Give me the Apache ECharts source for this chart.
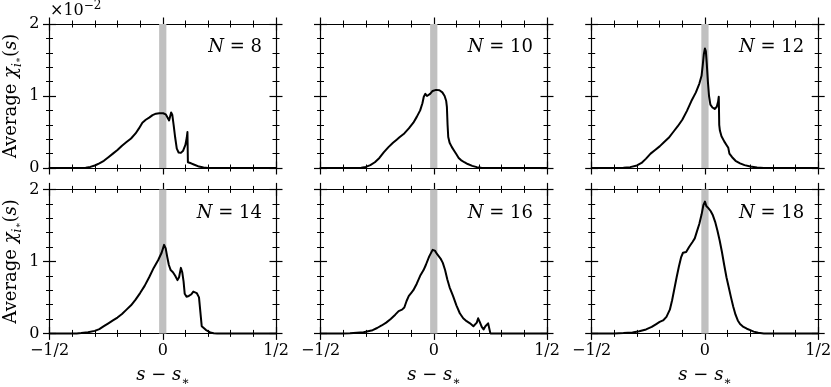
<!DOCTYPE html>
<html><head><meta charset="utf-8">
<script src="https://cdn.jsdelivr.net/npm/echarts@6/dist/echarts.min.js"></script>
<style>html,body{margin:0;padding:0;background:#fff}#c{width:831px;height:387px}</style>
</head><body><div id="c"></div>
<script>
// ---------- data ----------
const panelN = ['8', '10', '12', '14', '16', '18'];
const xTickValues = [-0.5, 0, 0.5];
const xTickLabels = ['\u22121/2', '0', '1/2'];
const yTickValues = [0, 1, 2];
const yTickLabels = ['0', '1', '2'];
const bandHalfWidth = 0.016;

const n8 = [[-0.5,0],[-0.36,0],[-0.34,0.005],[-0.32,0.015],[-0.3,0.035],[-0.28,0.065],[-0.26,0.1],[-0.24,0.15],[-0.22,0.2],[-0.2,0.25],[-0.18,0.31],[-0.16,0.36],[-0.14,0.41],[-0.12,0.48],[-0.105,0.55],[-0.09,0.63],[-0.075,0.67],[-0.06,0.7],[-0.045,0.735],[-0.03,0.755],[-0.015,0.762],[0.002,0.76],[0.013,0.745],[0.021,0.7],[0.028,0.66],[0.033,0.665],[0.037,0.77],[0.042,0.74],[0.048,0.6],[0.055,0.42],[0.062,0.27],[0.07,0.215],[0.08,0.21],[0.09,0.24],[0.1,0.32],[0.106,0.42],[0.109,0.5],[0.111,0.08],[0.125,0.065],[0.14,0.045],[0.16,0.02],[0.18,0.006],[0.2,0],[0.5,0]];
const n10 = [[-0.5,0],[-0.35,0],[-0.32,0.005],[-0.3,0.015],[-0.28,0.04],[-0.26,0.08],[-0.24,0.14],[-0.22,0.22],[-0.2,0.29],[-0.18,0.35],[-0.165,0.39],[-0.15,0.43],[-0.13,0.48],[-0.11,0.55],[-0.09,0.63],[-0.075,0.71],[-0.06,0.8],[-0.05,0.9],[-0.044,0.99],[-0.037,1.03],[-0.03,1.0],[-0.024,0.99],[-0.016,1.03],[-0.005,1.07],[0.01,1.085],[0.025,1.08],[0.038,1.05],[0.048,1.0],[0.055,0.93],[0.058,0.85],[0.061,0.6],[0.064,0.43],[0.07,0.35],[0.08,0.29],[0.09,0.24],[0.1,0.19],[0.11,0.14],[0.12,0.11],[0.135,0.08],[0.15,0.055],[0.17,0.03],[0.19,0.012],[0.21,0.004],[0.24,0],[0.5,0]];
const n12 = [[-0.5,0],[-0.4,0],[-0.36,0.004],[-0.33,0.012],[-0.3,0.035],[-0.28,0.07],[-0.26,0.13],[-0.24,0.2],[-0.22,0.25],[-0.2,0.3],[-0.18,0.36],[-0.16,0.42],[-0.14,0.5],[-0.12,0.58],[-0.1,0.67],[-0.08,0.79],[-0.06,0.93],[-0.04,1.05],[-0.025,1.17],[-0.015,1.28],[-0.01,1.42],[-0.005,1.58],[0.0,1.66],[0.004,1.62],[0.008,1.45],[0.013,1.2],[0.018,1.0],[0.024,0.88],[0.033,0.84],[0.043,0.82],[0.052,0.85],[0.058,0.92],[0.061,0.99],[0.063,0.6],[0.066,0.52],[0.073,0.44],[0.085,0.37],[0.095,0.32],[0.103,0.28],[0.108,0.2],[0.12,0.15],[0.135,0.1],[0.155,0.065],[0.175,0.04],[0.2,0.022],[0.23,0.008],[0.26,0.001],[0.5,0]];
const n14 = [[-0.5,0],[-0.38,0],[-0.36,0.005],[-0.33,0.015],[-0.3,0.035],[-0.28,0.06],[-0.26,0.1],[-0.24,0.14],[-0.22,0.18],[-0.2,0.22],[-0.18,0.27],[-0.16,0.33],[-0.14,0.39],[-0.12,0.47],[-0.1,0.56],[-0.08,0.66],[-0.06,0.78],[-0.04,0.91],[-0.02,1.02],[-0.005,1.12],[0.006,1.23],[0.013,1.18],[0.02,1.06],[0.027,0.95],[0.035,0.88],[0.045,0.85],[0.055,0.8],[0.065,0.74],[0.072,0.78],[0.08,0.91],[0.086,0.85],[0.092,0.72],[0.097,0.55],[0.105,0.51],[0.115,0.52],[0.125,0.54],[0.135,0.58],[0.142,0.6],[0.15,0.56],[0.16,0.5],[0.168,0.48],[0.172,0.1],[0.18,0.075],[0.19,0.05],[0.2,0.03],[0.21,0.012],[0.225,0.002],[0.24,0],[0.5,0]];
const n16 = [[-0.5,0],[-0.4,0],[-0.37,0.003],[-0.34,0.01],[-0.31,0.016],[-0.29,0.03],[-0.27,0.045],[-0.25,0.075],[-0.23,0.11],[-0.21,0.15],[-0.19,0.2],[-0.17,0.26],[-0.155,0.31],[-0.14,0.33],[-0.13,0.36],[-0.12,0.45],[-0.11,0.52],[-0.1,0.56],[-0.09,0.6],[-0.075,0.69],[-0.06,0.8],[-0.045,0.88],[-0.035,0.95],[-0.02,1.07],[-0.005,1.16],[0.005,1.15],[0.015,1.1],[0.03,1.04],[0.04,0.98],[0.05,0.88],[0.06,0.75],[0.07,0.64],[0.085,0.52],[0.1,0.39],[0.115,0.28],[0.13,0.21],[0.145,0.17],[0.16,0.14],[0.175,0.1],[0.182,0.08],[0.19,0.15],[0.196,0.21],[0.203,0.16],[0.212,0.09],[0.22,0.055],[0.228,0.1],[0.24,0.14],[0.248,0.15],[0.25,0],[0.5,0]];
const n18 = [[-0.5,0],[-0.4,0],[-0.36,0.004],[-0.32,0.012],[-0.29,0.03],[-0.26,0.055],[-0.235,0.09],[-0.215,0.13],[-0.2,0.16],[-0.185,0.18],[-0.17,0.23],[-0.155,0.33],[-0.145,0.46],[-0.135,0.62],[-0.125,0.78],[-0.115,0.93],[-0.105,1.06],[-0.097,1.12],[-0.09,1.11],[-0.083,1.13],[-0.07,1.2],[-0.055,1.27],[-0.045,1.32],[-0.035,1.42],[-0.025,1.52],[-0.015,1.65],[-0.007,1.78],[0.0,1.83],[0.006,1.77],[0.015,1.74],[0.025,1.7],[0.035,1.64],[0.045,1.55],[0.055,1.43],[0.065,1.29],[0.075,1.13],[0.085,0.95],[0.095,0.78],[0.105,0.64],[0.115,0.5],[0.125,0.37],[0.135,0.26],[0.145,0.18],[0.155,0.13],[0.17,0.09],[0.185,0.065],[0.2,0.045],[0.215,0.025],[0.235,0.008],[0.26,0],[0.5,0]];
const panelData = [n8, n10, n12, n14, n16, n18];

// ---------- layout / style ----------
const FONT = 'DejaVu Serif';
const lefts = [49.5, 320.5, 591.7];
const tops = [24, 189.4];
const W = 226.5, H = 144;
const MAJ = 6.5, MIN = 3.5;

const grid = [], xAxis = [], yAxis = [], series = [], graphic = [];

function xLabel(v) {
  const i = xTickValues.findIndex(t => Math.abs(t - v) < 1e-9);
  return i >= 0 ? xTickLabels[i] : '';
}
function yLabel(v) {
  const i = yTickValues.findIndex(t => Math.abs(t - v) < 1e-9);
  return i >= 0 ? yTickLabels[i] : '';
}

const xNameRich = {
  i: { fontFamily: FONT, fontSize: 18, fontStyle: 'italic', color: '#000', lineHeight: 24 },
  t: { fontFamily: FONT, fontSize: 18, color: '#000', lineHeight: 24 },
  s: { fontFamily: FONT, fontSize: 12, color: '#000', lineHeight: 10, verticalAlign: 'bottom' }
};
const yNameRich = {
  t: { fontFamily: FONT, fontSize: 18, color: '#000', lineHeight: 24 },
  c: { fontFamily: FONT, fontSize: 18, fontStyle: 'italic', color: '#000', lineHeight: 24 },
  s: { fontFamily: FONT, fontSize: 12, fontStyle: 'italic', color: '#000', lineHeight: 12, verticalAlign: 'bottom' },
  ss: { fontFamily: FONT, fontSize: 9, color: '#000', lineHeight: 7, verticalAlign: 'bottom' }
};

for (let g = 0; g < 6; g++) {
  const r = Math.floor(g / 3), c = g % 3;
  grid.push({ left: lefts[c], top: tops[r], width: W, height: H, outerBoundsMode: 'none', containLabel: false });
  const bottomRow = r === 1, leftCol = c === 0;
  const mkX = (pos, inside, main) => ({
    type: 'value', gridIndex: g, position: pos, offset: 0, min: -0.5, max: 0.5, interval: 0.5,
    axisLine: { show: !inside, onZero: false, lineStyle: { color: '#000', width: 1.2 } },
    axisTick: { show: true, inside: inside, length: MAJ, lineStyle: { color: '#000', width: 1.2 } },
    minorTick: { show: true, splitNumber: 5, length: MIN, lineStyle: { color: '#000', width: 1 } },
    splitLine: { show: false }, minorSplitLine: { show: false },
    axisLabel: { show: main && bottomRow, formatter: xLabel, margin: 9, fontFamily: FONT, fontSize: 16, color: '#000' },
    name: main && bottomRow ? '{i|s}{t| \u2212 }{i|s}{s|\u2217}' : '',
    nameLocation: 'middle', nameGap: 30, nameMoveOverlap: false,
    nameTextStyle: { rich: xNameRich }
  });
  const mkY = (pos, inside, main) => ({
    type: 'value', gridIndex: g, position: pos, offset: 0, min: 0, max: 2, interval: 1,
    axisLine: { show: !inside, onZero: false, lineStyle: { color: '#000', width: 1.2 } },
    axisTick: { show: true, inside: inside, length: MAJ, lineStyle: { color: '#000', width: 1.2 } },
    minorTick: { show: true, splitNumber: 5, length: MIN, lineStyle: { color: '#000', width: 1 } },
    splitLine: { show: false }, minorSplitLine: { show: false },
    axisLabel: { show: main && leftCol, formatter: yLabel, margin: 10, fontFamily: FONT, fontSize: 16, color: '#000' },
    name: main && leftCol ? '{t|Average }{c|\u03c7}{s|i}{ss|\u2217}{t|(}{c|s}{t|)}' : '',
    nameLocation: 'middle', nameGap: 26, nameMoveOverlap: false,
    nameTextStyle: { rich: yNameRich }
  });
  xAxis.push(mkX('bottom', false, true), mkX('bottom', true, false), mkX('top', false, false), mkX('top', true, false));
  yAxis.push(mkY('left', false, true), mkY('left', true, false), mkY('right', false, false), mkY('right', true, false));

  series.push({
    type: 'line', xAxisIndex: 4 * g, yAxisIndex: 4 * g, data: [], z: 1, silent: true,
    markArea: {
      silent: true,
      itemStyle: { color: '#c0c0c0', opacity: 1 },
      label: { show: false },
      data: [[{ xAxis: -bandHalfWidth }, { xAxis: bandHalfWidth }]]
    }
  });
  series.push({
    type: 'line', xAxisIndex: 4 * g, yAxisIndex: 4 * g, data: panelData[g], z: 3,
    showSymbol: false, symbol: 'none', clip: false, smooth: false,
    lineStyle: { color: '#000', width: 2, join: 'round', cap: 'round' }
  });

  graphic.push({
    type: 'text', x: lefts[c] + W - 14, y: tops[r] + 23.5, z: 10,
    style: {
      text: '{i|N}{t| = ' + panelN[g] + '}', align: 'right', verticalAlign: 'middle',
      rich: {
        i: { fontFamily: FONT, fontSize: 18, fontStyle: 'italic', fill: '#000' },
        t: { fontFamily: FONT, fontSize: 18, fill: '#000' }
      }
    }
  });
}

graphic.push({
  type: 'text', x: 50, y: 0, z: 10,
  style: {
    text: '{t|\u00d710}{p|\u22122}', align: 'left', verticalAlign: 'top',
    rich: {
      t: { fontFamily: FONT, fontSize: 16, fill: '#000', lineHeight: 22 },
      p: { fontFamily: FONT, fontSize: 12, fill: '#000', lineHeight: 12, verticalAlign: 'top' }
    }
  }
});

const chart = echarts.init(document.getElementById('c'), null, { renderer: 'canvas' });
chart.setOption({
  animation: false,
  backgroundColor: '#fff',
  grid, xAxis, yAxis, series, graphic
});
</script></body></html>
